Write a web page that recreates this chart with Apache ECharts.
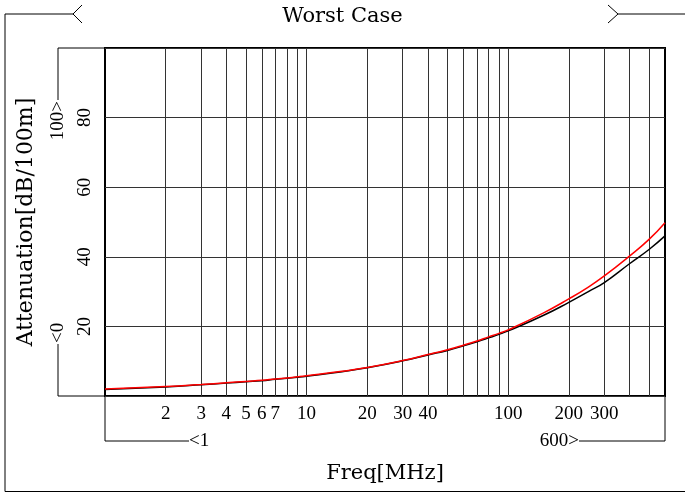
<!DOCTYPE html>
<html>
<head>
<meta charset="utf-8">
<script src="https://cdn.jsdelivr.net/npm/echarts@6/dist/echarts.min.js"></script>
<style>
  html, body { margin: 0; padding: 0; background: #fff; }
  #chart { width: 685px; height: 493px; }
</style>
</head>
<body>
<div id="chart"></div>
<script>
// Attenuation vs frequency, worst case
const freqMHz = [1, 2, 3, 4, 5, 6, 7, 8, 9, 10, 15, 20, 30, 40, 50, 60, 70, 80, 90, 100, 150, 200, 250, 300, 400, 500, 600];
const attenRed = [2.0, 2.7, 3.3, 3.8, 4.2, 4.5, 4.9, 5.2, 5.5, 5.8, 7.1, 8.2, 10.2, 11.9, 13.3, 14.6, 15.8, 17.0, 18.0, 19.0, 23.9, 27.9, 31.3, 34.5, 40.2, 45.0, 49.8];
const attenBlack = [1.9, 2.6, 3.2, 3.7, 4.1, 4.4, 4.8, 5.1, 5.4, 5.7, 7.0, 8.1, 10.1, 11.8, 13.1, 14.4, 15.6, 16.7, 17.7, 18.7, 23.2, 26.9, 30.0, 32.6, 38.0, 42.1, 46.0];

// log-axis grid lines and the labelled ones
const gridFreqs = [2, 3, 4, 5, 6, 7, 8, 9, 10, 20, 30, 40, 50, 60, 70, 80, 90, 100, 200, 300, 400, 500];
const labeledFreqs = [2, 3, 4, 5, 6, 7, 10, 20, 30, 40, 100, 200, 300];
const yTickLabels = [20, 40, 60, 80];
const xRange = [1, 600];
const yRange = [0, 100];

const titleText = 'Worst Case';
const xName = 'Freq[MHz]';
const yName = 'Attenuation[dB/100m]';

const nameFont = 'DejaVu Serif';
const tickFont = 'Liberation Serif';

// plot rectangle
const G = { left: 105, top: 48, right: 665, bottom: 396 };

const chart = echarts.init(document.getElementById('chart'), null, { renderer: 'canvas' });

const line = (pts) => ({
  type: 'polyline', silent: true,
  shape: { points: pts },
  style: { stroke: '#000', lineWidth: 1, fill: null }
});
const txt = (x, y, text, align, rot) => ({
  type: 'text', silent: true, x: x, y: y, rotation: rot || 0,
  style: { text: text, align: align, verticalAlign: 'middle', fill: '#000', font: '19px "' + tickFont + '"' }
});

const bracketX = 58;
const bracketY = 441;

const curve = (name, color, z, values) => ({
  type: 'line', name: name, z: z, smooth: true,
  showSymbol: false, silent: true,
  lineStyle: { color: color, width: 1.5 },
  data: freqMHz.map((f, i) => [f, values[i]])
});

chart.setOption({
  animation: false,
  backgroundColor: '#fff',
  title: {
    text: titleText, left: 'center', top: 1,
    textStyle: { fontFamily: nameFont, fontSize: 21, fontWeight: 'normal', color: '#000' }
  },
  grid: {
    left: G.left, top: G.top, right: 685 - G.right, bottom: 493 - G.bottom,
    show: true, borderColor: '#000', borderWidth: 2, backgroundColor: 'transparent'
  },
  xAxis: {
    type: 'log', logBase: 10, min: xRange[0], max: xRange[1],
    name: xName, nameLocation: 'middle', nameGap: 67,
    nameTextStyle: { fontFamily: nameFont, fontSize: 21, color: '#000' },
    axisLine: { show: false }, axisTick: { show: false },
    axisLabel: { show: false }, splitLine: { show: false }, minorSplitLine: { show: false }
  },
  yAxis: {
    type: 'value', min: yRange[0], max: yRange[1], interval: 20,
    name: yName, nameLocation: 'middle', nameGap: 68, nameRotate: 90,
    nameTextStyle: { fontFamily: nameFont, fontSize: 22, color: '#000' },
    axisLine: { show: false }, axisTick: { show: false },
    axisLabel: {
      rotate: 90, margin: 10,
      fontFamily: tickFont, fontSize: 19, color: '#000',
      formatter: (v) => (yTickLabels.indexOf(v) >= 0 ? String(v) : '')
    },
    splitLine: { show: true, lineStyle: { color: '#333', width: 1 } }
  },
  series: [
    {
      type: 'line', name: 'grid', data: [], silent: true,
      markLine: {
        silent: true, z: 1, symbol: 'none', animation: false,
        lineStyle: { color: '#333', width: 1, type: 'solid' },
        label: {
          show: true, position: 'start', distance: 9,
          fontFamily: tickFont, fontSize: 19, color: '#000'
        },
        emphasis: { disabled: true },
        data: gridFreqs.map((f) => ({
          xAxis: f,
          label: { show: labeledFreqs.indexOf(f) >= 0, formatter: String(f) }
        }))
      }
    },
    curve('black', '#000', 3, attenBlack),
    curve('red', '#ff0000', 4, attenRed)
  ],
  graphic: [
    // outer frame with the title break
    line([[73, 14], [5, 14], [5, 491.5], [685, 491.5]]),
    line([[82, 5], [73, 14], [82, 23]]),
    line([[618, 14], [685, 14]]),
    line([[608, 5], [618, 14], [608, 23]]),
    // y range bracket
    line([[G.left, G.top], [bracketX, G.top], [bracketX, 100]]),
    txt(bracketX, 101, '100>', 'right', Math.PI / 2),
    line([[bracketX, 344], [bracketX, G.bottom], [G.left, G.bottom]]),
    txt(bracketX, 343, '<0', 'left', Math.PI / 2),
    // x range bracket
    line([[G.left, G.bottom], [G.left, bracketY], [189, bracketY]]),
    txt(189, bracketY, '<1', 'left'),
    line([[579, bracketY], [G.right, bracketY], [G.right, G.bottom]]),
    txt(579, bracketY, '600>', 'right')
  ]
});
</script>
</body>
</html>
